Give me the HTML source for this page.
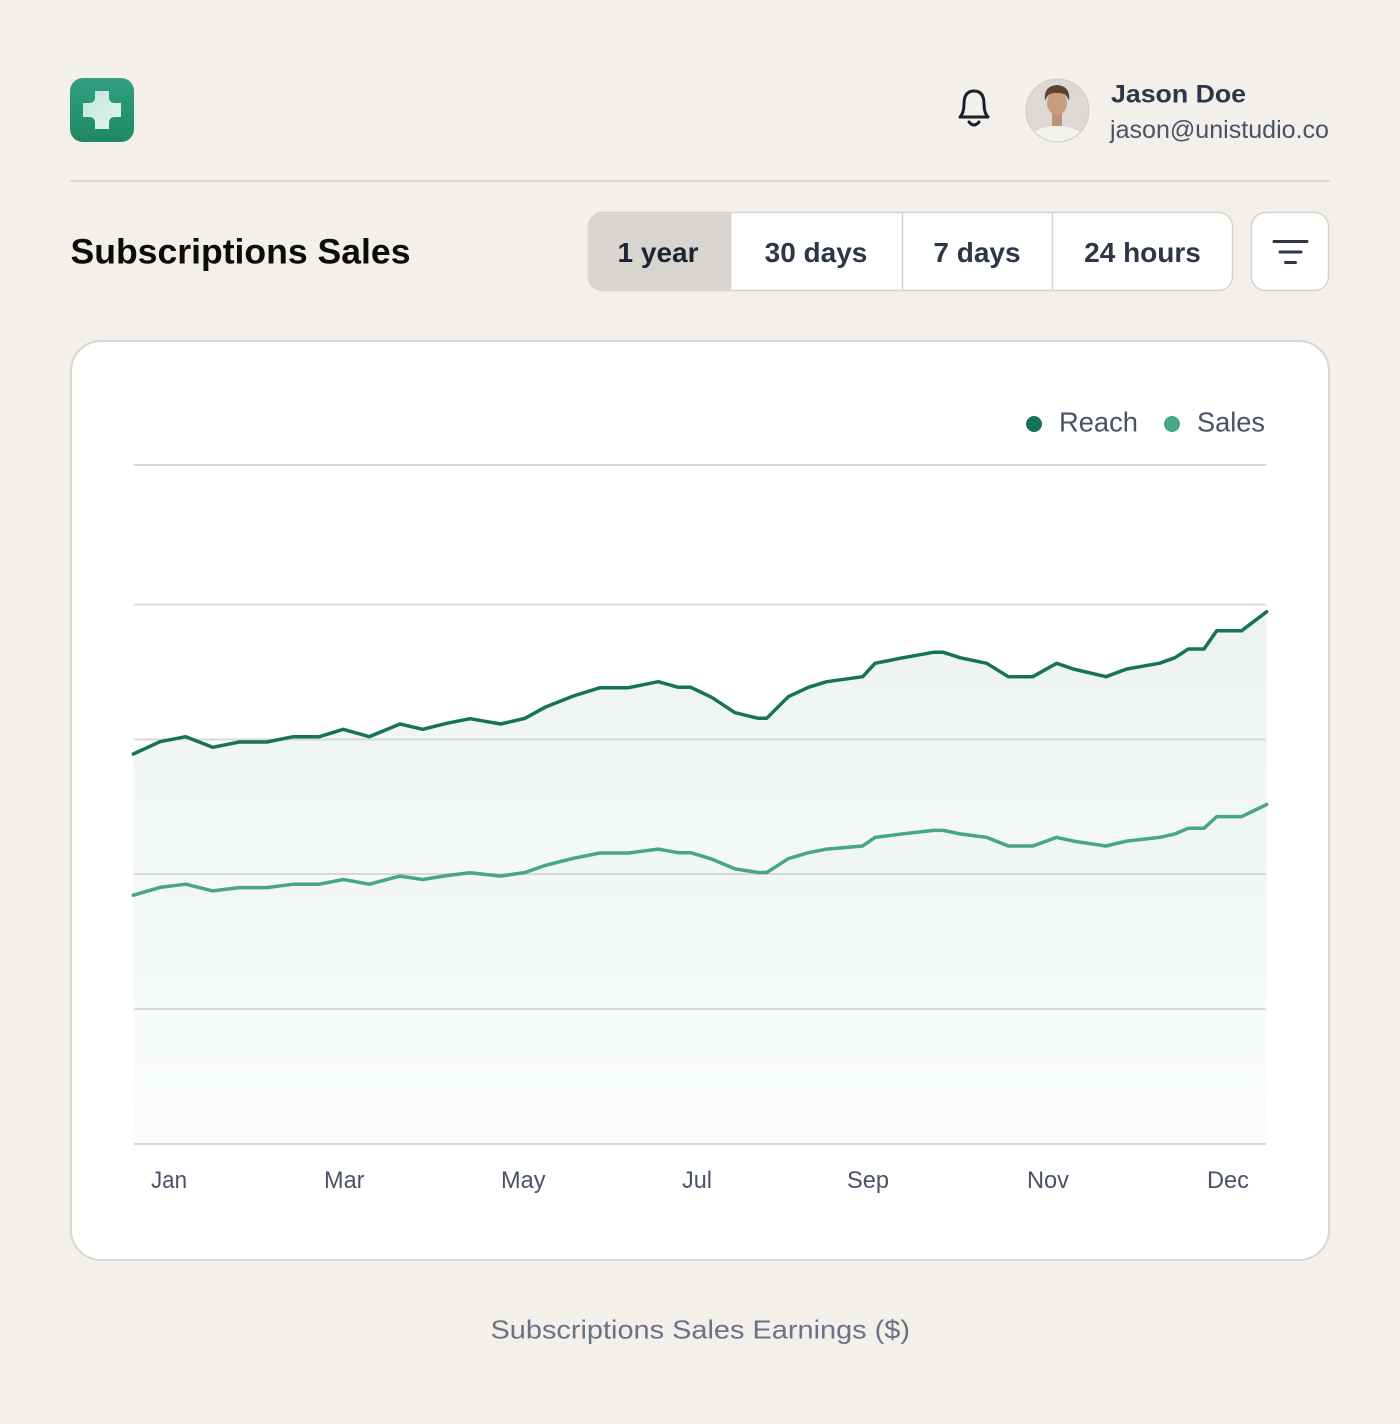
<!DOCTYPE html>
<html><head><meta charset="utf-8"><style>
html,body{margin:0;padding:0;background:#f3efea;}
svg{display:block;font-family:"Liberation Sans",Arial,sans-serif;}
</style></head><body>
<svg width="1400" height="1424" viewBox="0 0 1400 1424" xmlns="http://www.w3.org/2000/svg">
<defs>
<linearGradient id="logoG" x1="0" y1="0" x2="0" y2="1">
<stop offset="0" stop-color="#31a07e"/><stop offset="1" stop-color="#1e8766"/>
</linearGradient>
<linearGradient id="plusG" x1="0" y1="0" x2="1" y2="1">
<stop offset="0" stop-color="#bfe6d8"/><stop offset="1" stop-color="#e4f4ee"/>
</linearGradient>
<linearGradient id="areaG" gradientUnits="userSpaceOnUse" x1="0" y1="610" x2="0" y2="1143">
<stop offset="0" stop-color="#16735a" stop-opacity="0.085"/>
<stop offset="0.6" stop-color="#16735a" stop-opacity="0.035"/>
<stop offset="1" stop-color="#16735a" stop-opacity="0"/>
</linearGradient>
<clipPath id="avClip"><circle cx="1057.5" cy="110.5" r="31.5"/></clipPath>
</defs>

<rect width="1400" height="1424" fill="#f3efea"/>

<!-- logo -->
<rect x="70" y="78" width="64" height="64" rx="13" fill="url(#logoG)"/>
<path d="M95 91 H109 V97 Q109 103 115 103 H121 V117 H115 Q109 117 109 123 V129 H95 V123 Q95 117 89 117 H83 V103 H89 Q95 103 95 97 Z" fill="url(#plusG)"/>

<!-- bell -->
<g fill="none" stroke="#1a1f2b" stroke-width="3" stroke-linecap="round" stroke-linejoin="round">
<path d="M960 117 Q964 113 964 104 Q964 91 974 91 Q984 91 984 104 Q984 113 988 117 Z"/>
<path d="M969 122 Q974 128 979 122"/>
</g>

<!-- avatar -->
<g clip-path="url(#avClip)">
<rect x="1020" y="75" width="80" height="70" fill="#dcd9d5"/>
<ellipse cx="1057" cy="148" rx="34" ry="22" fill="#f3f1ee"/>
<rect x="1052" y="112" width="10" height="14" fill="#c09178"/>
<ellipse cx="1057" cy="103" rx="10" ry="12" fill="#c99c80"/>
<path d="M1045 101 Q1043 86 1057 85 Q1071 86 1069 101 Q1066 92 1057 93 Q1048 92 1045 101 Z" fill="#5b4330"/>
</g>
<circle cx="1057.5" cy="110.5" r="31.5" fill="none" stroke="#d0ccc7" stroke-width="1"/>

<!-- user -->
<text x="1111" y="102.5" font-size="25" font-weight="700" fill="#2d3648" textLength="135" lengthAdjust="spacingAndGlyphs">Jason Doe</text>
<text x="1110" y="138" font-size="25" fill="#4a5266" textLength="219" lengthAdjust="spacingAndGlyphs">jason@unistudio.co</text>

<!-- divider -->
<line x1="70" y1="181" x2="1330" y2="181" stroke="#dcd8d3" stroke-width="2"/>

<!-- title -->
<text x="70.5" y="263.5" font-size="35" font-weight="700" fill="#0c0c0c" textLength="340" lengthAdjust="spacingAndGlyphs">Subscriptions Sales</text>

<!-- tabs -->
<rect x="588.5" y="212.5" width="644" height="78" rx="14" fill="#ffffff" stroke="#d6d2cd" stroke-width="1.5"/>
<path d="M730 213.25 H602.5 Q589.25 213.25 589.25 226.5 V276.5 Q589.25 289.75 602.5 289.75 H730 Z" fill="#d8d5d0"/>
<line x1="730.5" y1="213" x2="730.5" y2="290" stroke="#d6d2cd" stroke-width="1.5"/>
<line x1="902.5" y1="213" x2="902.5" y2="290" stroke="#d6d2cd" stroke-width="1.5"/>
<line x1="1052.5" y1="213" x2="1052.5" y2="290" stroke="#d6d2cd" stroke-width="1.5"/>
<g font-size="28" font-weight="700" text-anchor="middle">
<text x="658" y="262" fill="#1e2330">1 year</text>
<text x="816" y="262" fill="#2d3648">30 days</text>
<text x="977" y="262" fill="#2d3648">7 days</text>
<text x="1142.5" y="262" fill="#2d3648">24 hours</text>
</g>

<!-- filter button -->
<rect x="1251.5" y="212.5" width="77" height="78" rx="14" fill="#ffffff" stroke="#d6d2cd" stroke-width="1.5"/>
<g stroke="#2d3648" stroke-width="3" stroke-linecap="round">
<line x1="1274" y1="241.5" x2="1307" y2="241.5"/>
<line x1="1280" y1="252" x2="1301" y2="252"/>
<line x1="1285.5" y1="262.5" x2="1295.5" y2="262.5"/>
</g>

<!-- card -->
<rect x="71" y="341" width="1258" height="919" rx="30" fill="#ffffff" stroke="#d9d5d0" stroke-width="2"/>

<!-- legend -->
<circle cx="1034" cy="424" r="8" fill="#17725a"/>
<text x="1059" y="431.5" font-size="28" fill="#4a5266" textLength="79" lengthAdjust="spacingAndGlyphs">Reach</text>
<circle cx="1172" cy="424" r="8" fill="#47a688"/>
<text x="1197" y="431.5" font-size="28" fill="#4a5266" textLength="68" lengthAdjust="spacingAndGlyphs">Sales</text>

<!-- area fill -->
<path fill="url(#areaG)" d="M133.3,754 L160,741.7 L185.7,736.7 L212.7,747.3 L239.3,742 L266.7,742 L293.3,736.7 L319.3,736.7 L343.3,729.3 L369.3,736.7 L400,724 L422.7,729.3 L446.7,723.3 L470,718.7 L500.7,724 L525,718.3 L545,707.3 L573.3,696 L600,687.7 L628.3,687.7 L658.3,681.7 L678.3,687.3 L690.7,687.3 L711.7,697.3 L735,712.7 L758.3,718.3 L766.7,718.3 L788.3,696.7 L808.3,687.3 L826.7,681.7 L862.7,676.7 L875,663.3 L900,658.3 L933.3,652.3 L943.3,652.3 L960,657.7 L986.7,663.3 L1008.3,676.7 L1032.7,676.7 L1056.7,663.3 L1073.3,669 L1106,676.7 L1126.7,669 L1159.3,663.3 L1175,657.7 L1188.3,649 L1204,649 L1216.7,630.7 L1241.7,630.7 L1266.7,611.7 L1266.7,1143 L133.3,1143 Z"/>
<path fill="#16735a" fill-opacity="0.015" d="M133.3,895.2 L160,887.4 L185.7,884.2 L212.7,890.9 L239.3,887.6 L266.7,887.6 L293.3,884.2 L319.3,884.2 L343.3,879.5 L369.3,884.2 L400,876.1 L422.7,879.5 L446.7,875.6 L470,872.7 L500.7,876.1 L525,872.5 L545,865.5 L573.3,858.3 L600,853 L628.3,853 L658.3,849.1 L678.3,852.7 L690.7,852.7 L711.7,859.1 L735,868.9 L758.3,872.5 L766.7,872.5 L788.3,858.7 L808.3,852.7 L826.7,849.1 L862.7,846 L875,837.4 L900,834.2 L933.3,830.4 L943.3,830.4 L960,833.9 L986.7,837.4 L1008.3,846 L1032.7,846 L1056.7,837.4 L1073.3,841.1 L1106,846 L1126.7,841.1 L1159.3,837.4 L1175,833.9 L1188.3,828.3 L1204,828.3 L1216.7,816.6 L1241.7,816.6 L1266.7,804.5 L1266.7,1143 L133.3,1143 Z"/>

<!-- gridlines -->
<g stroke="#d8d8d6" stroke-width="2">
<line x1="134" y1="465" x2="1266" y2="465"/>
<line x1="134" y1="604.5" x2="1266" y2="604.5"/>
<line x1="134" y1="739.5" x2="1266" y2="739.5"/>
<line x1="134" y1="874" x2="1266" y2="874"/>
<line x1="134" y1="1009" x2="1266" y2="1009"/>
<line x1="134" y1="1144" x2="1266" y2="1144"/>
</g>

<!-- series -->
<polyline fill="none" stroke="#47a688" stroke-width="3.5" stroke-linejoin="round" stroke-linecap="round" points="133.3,895.2 160,887.4 185.7,884.2 212.7,890.9 239.3,887.6 266.7,887.6 293.3,884.2 319.3,884.2 343.3,879.5 369.3,884.2 400,876.1 422.7,879.5 446.7,875.6 470,872.7 500.7,876.1 525,872.5 545,865.5 573.3,858.3 600,853 628.3,853 658.3,849.1 678.3,852.7 690.7,852.7 711.7,859.1 735,868.9 758.3,872.5 766.7,872.5 788.3,858.7 808.3,852.7 826.7,849.1 862.7,846 875,837.4 900,834.2 933.3,830.4 943.3,830.4 960,833.9 986.7,837.4 1008.3,846 1032.7,846 1056.7,837.4 1073.3,841.1 1106,846 1126.7,841.1 1159.3,837.4 1175,833.9 1188.3,828.3 1204,828.3 1216.7,816.6 1241.7,816.6 1266.7,804.5"/>
<polyline fill="none" stroke="#17725a" stroke-width="3.5" stroke-linejoin="round" stroke-linecap="round" points="133.3,754 160,741.7 185.7,736.7 212.7,747.3 239.3,742 266.7,742 293.3,736.7 319.3,736.7 343.3,729.3 369.3,736.7 400,724 422.7,729.3 446.7,723.3 470,718.7 500.7,724 525,718.3 545,707.3 573.3,696 600,687.7 628.3,687.7 658.3,681.7 678.3,687.3 690.7,687.3 711.7,697.3 735,712.7 758.3,718.3 766.7,718.3 788.3,696.7 808.3,687.3 826.7,681.7 862.7,676.7 875,663.3 900,658.3 933.3,652.3 943.3,652.3 960,657.7 986.7,663.3 1008.3,676.7 1032.7,676.7 1056.7,663.3 1073.3,669 1106,676.7 1126.7,669 1159.3,663.3 1175,657.7 1188.3,649 1204,649 1216.7,630.7 1241.7,630.7 1266.7,611.7"/>

<!-- x labels -->
<g font-size="24" fill="#4a5266">
<text x="151" y="1188" textLength="36" lengthAdjust="spacingAndGlyphs">Jan</text>
<text x="324" y="1188" textLength="40.5" lengthAdjust="spacingAndGlyphs">Mar</text>
<text x="501" y="1188" textLength="44.5" lengthAdjust="spacingAndGlyphs">May</text>
<text x="682" y="1188" textLength="30" lengthAdjust="spacingAndGlyphs">Jul</text>
<text x="847" y="1188" textLength="42" lengthAdjust="spacingAndGlyphs">Sep</text>
<text x="1027" y="1188" textLength="42" lengthAdjust="spacingAndGlyphs">Nov</text>
<text x="1207" y="1188" textLength="42" lengthAdjust="spacingAndGlyphs">Dec</text>
</g>

<!-- caption -->
<text x="490.5" y="1338.5" font-size="26" fill="#6b7285" textLength="419.5" lengthAdjust="spacingAndGlyphs">Subscriptions Sales Earnings ($)</text>
</svg>
</body></html>
